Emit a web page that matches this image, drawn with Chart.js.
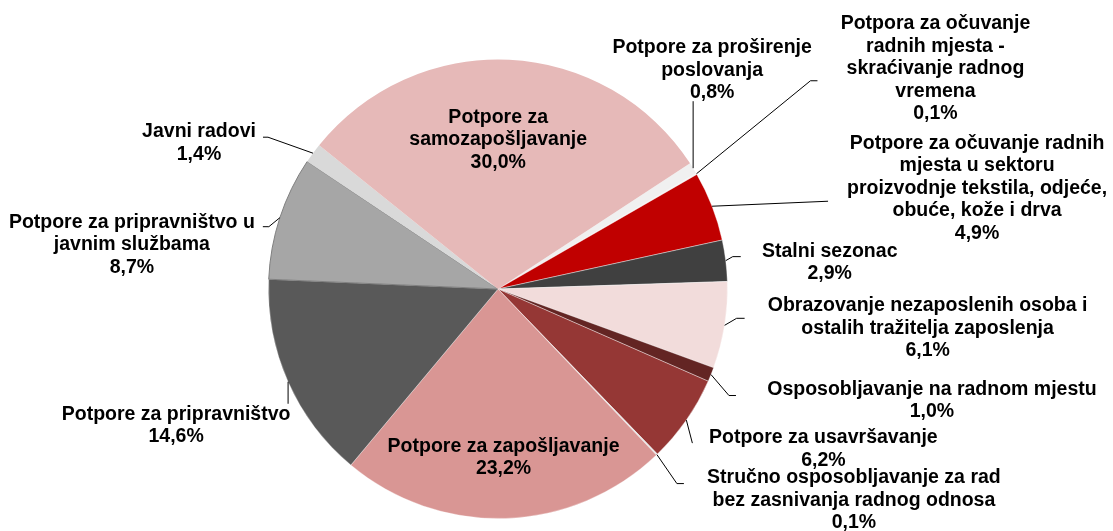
<!DOCTYPE html>
<html>
<head>
<meta charset="utf-8">
<script src="https://cdn.jsdelivr.net/npm/chart.js@4.4.1/dist/chart.umd.min.js"></script>
<style>
  html, body { margin: 0; padding: 0; background: #ffffff; }
  #wrap { position: relative; width: 1113px; height: 531px; }
</style>
</head>
<body>
<div id="wrap"><canvas id="c"></canvas></div>
<script>
// ---- data (clockwise from the first slice) ----
const categories = [
  'Potpore za proširenje\nposlovanja',
  'Potpora za očuvanje\nradnih mjesta -\nskraćivanje radnog\nvremena',
  'Potpore za očuvanje radnih\nmjesta u sektoru\nproizvodnje tekstila, odjeće,\nobuće, kože i drva',
  'Stalni sezonac',
  'Obrazovanje nezaposlenih osoba i\nostalih tražitelja zaposlenja',
  'Osposobljavanje na radnom mjestu',
  'Potpore za usavršavanje',
  'Stručno osposobljavanje za rad\nbez zasnivanja radnog odnosa',
  'Potpore za zapošljavanje',
  'Potpore za pripravništvo',
  'Potpore za pripravništvo u\njavnim službama',
  'Javni radovi',
  'Potpore za\nsamozapošljavanje'
];
const shares = [0.8, 0.1, 4.9, 2.9, 6.1, 1.0, 6.2, 0.1, 23.2, 14.6, 8.7, 1.4, 30.0];

// ---- styles ----
const sliceColors = ['#f0f0f0', '#f4f4f4', '#c00000', '#404040', '#f2dcdb', '#632523',
                     '#953735', '#e8e8e8', '#d99694', '#595959', '#a6a6a6', '#d9d9d9', '#e6b9b8'];
const sliceBorders = ['rgba(255,255,255,0)', 'rgba(255,255,255,0)', 'rgba(255,255,255,0.4)', 'rgba(255,255,255,0.4)',
                      'rgba(255,255,255,0.4)', 'rgba(255,255,255,0.3)', 'rgba(255,255,255,0.4)', 'rgba(255,255,255,0)',
                      'rgba(255,255,255,0.3)', 'rgba(255,255,255,0.3)', '#7f7f7f', 'rgba(255,255,255,0)', 'rgba(255,255,255,0)'];

// label placement relative to the slice's rim point at its mid-angle
const labelPlacement = [
  { off: [19, -98],   leader: [[0, -67]] },
  { off: [239, -105], leader: [[114, -93], [121, -93]] },
  { off: [265, -18],  leader: [[116, -5]] },
  { off: [104, 2],    leader: [[7, -4], [15, -4]] },
  { off: [203, 3],    leader: [[12, -7], [20, -7]] },
  { off: [221, 26],   leader: [[18, 21], [25, 21]] },
  { off: [137, 29],   leader: [[6, 23]] },
  { off: [197, 46],   leader: [[20, 29], [27, 29]] },
  { off: [-2, -61],   leader: [] },
  { off: [-112, 44],  leader: [[0, 22]] },
  { off: [-148, 27],  leader: [[-11, 9], [-17, 9]] },
  { off: [-114, -10], leader: [[-45, -16], [-50, -16]] },
  { off: [-11, 80],   leader: [] }
];

const FONT = 'bold 19.5px "Liberation Sans", Arial, sans-serif';
const LINE_H = 22.5;

function fmtPct(v) { return v.toFixed(1).replace('.', ',') + '%'; }

const labelPlugin = {
  id: 'pieLabels',
  afterDatasetsDraw(chart) {
    const ctx = chart.ctx;
    const meta = chart.getDatasetMeta(0);
    ctx.save();
    meta.data.forEach((arc, i) => {
      const p = arc.getProps(['x', 'y', 'startAngle', 'endAngle', 'outerRadius'], true);
      const mid = (p.startAngle + p.endAngle) / 2;
      const ax = p.x + Math.cos(mid) * p.outerRadius;
      const ay = p.y + Math.sin(mid) * p.outerRadius;
      const pl = labelPlacement[i];
      // leader line
      if (pl.leader.length) {
        ctx.beginPath();
        ctx.strokeStyle = '#000000';
        ctx.lineWidth = 1;
        ctx.moveTo(ax, ay);
        pl.leader.forEach(pt => ctx.lineTo(ax + pt[0], ay + pt[1]));
        ctx.stroke();
      }
      // text
      const lines = categories[i].split('\n').concat([fmtPct(shares[i])]);
      const cx = ax + pl.off[0];
      const cy = ay + pl.off[1];
      ctx.font = FONT;
      ctx.fillStyle = '#000000';
      ctx.textAlign = 'center';
      ctx.textBaseline = 'middle';
      const top = cy - (lines.length - 1) * LINE_H / 2;
      lines.forEach((ln, k) => ctx.fillText(ln, cx, top + k * LINE_H));
    });
    ctx.restore();
  }
};

new Chart(document.getElementById('c'), {
  type: 'pie',
  data: {
    labels: categories,
    datasets: [{
      data: shares,
      backgroundColor: sliceColors,
      borderColor: sliceBorders,
      borderWidth: 1
    }]
  },
  options: {
    responsive: true,
    maintainAspectRatio: false,
    animation: false,
    rotation: 56.8,
    layout: { padding: { left: 268, right: 385, top: 59, bottom: 12 } },
    plugins: {
      legend: { display: false },
      title: { display: false },
      tooltip: { enabled: false }
    }
  },
  plugins: [labelPlugin]
});
</script>
</body>
</html>
